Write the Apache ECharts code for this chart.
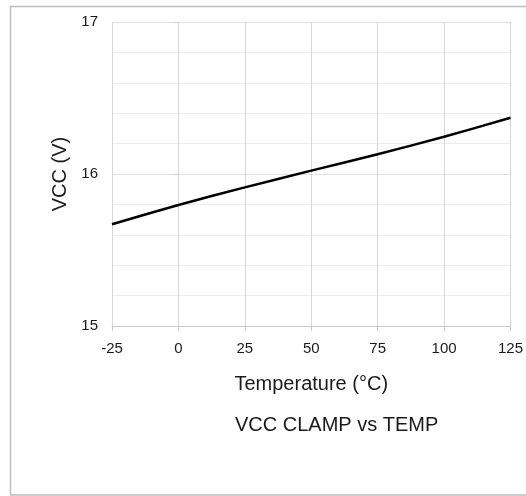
<!DOCTYPE html>
<html>
<head>
<meta charset="utf-8">
<script src="https://cdn.jsdelivr.net/npm/echarts@6/dist/echarts.min.js"></script>
<style>
html,body{margin:0;padding:0;background:#fff;}
#c{width:526px;height:496px;}
</style>
</head>
<body>
<div id="c"></div>
<script>
var temps = [-25, 0, 25, 50, 75, 100, 125];
var vcc = [15.669, 15.796, 15.912, 16.022, 16.13, 16.245, 16.370];
var xTicks = [-25, 0, 25, 50, 75, 100, 125];
var yTicks = [15, 16, 17];
var titleText = 'VCC CLAMP vs TEMP';
var xName = 'Temperature (°C)';
var yName = 'VCC (V)';

var font = 'Liberation Sans, Arial, sans-serif';
var chart = echarts.init(document.getElementById('c'), null, {renderer: 'canvas'});
chart.setOption({
  animation: false,
  backgroundColor: '#ffffff',
  graphic: [{
    type: 'rect',
    shape: {x: 10.5, y: 6.5, width: 530, height: 488.5},
    style: {fill: 'none', stroke: '#bdbdbd', lineWidth: 1.5},
    z: -1
  }],
  title: {
    text: titleText,
    left: 235,
    top: 415,
    padding: 0,
    textStyle: {fontFamily: font, fontSize: 20, fontWeight: 'normal', color: '#1a1a1a'}
  },
  grid: {left: 112, right: 13, top: 22, bottom: 170, containLabel: false},
  xAxis: {
    type: 'value',
    min: xTicks[0],
    max: xTicks[xTicks.length - 1],
    interval: 25,
    name: xName,
    nameLocation: 'middle',
    nameGap: 48,
    nameTextStyle: {fontFamily: font, fontSize: 20, color: '#1a1a1a'},
    axisLine: {show: true, lineStyle: {color: '#c8c8c8', width: 1}},
    axisTick: {show: true, length: 5, lineStyle: {color: '#c8c8c8'}},
    axisLabel: {fontFamily: font, fontSize: 15, color: '#1a1a1a', margin: 15},
    splitLine: {show: true, lineStyle: {color: '#d6d6d6', width: 1}}
  },
  yAxis: {
    type: 'value',
    min: yTicks[0],
    max: yTicks[yTicks.length - 1],
    interval: 1,
    name: yName,
    nameLocation: 'middle',
    nameGap: 42,
    nameRotate: 90,
    nameTextStyle: {fontFamily: font, fontSize: 20, color: '#1a1a1a'},
    axisLine: {show: false},
    axisTick: {show: true, length: 5, lineStyle: {color: '#cccccc'}},
    axisLabel: {fontFamily: font, fontSize: 15, color: '#1a1a1a', margin: 14},
    splitLine: {show: true, lineStyle: {color: '#e2e2e2', width: 1}},
    minorTick: {show: false, splitNumber: 5},
    minorSplitLine: {show: true, lineStyle: {color: '#ececec', width: 1}}
  },
  series: [{
    type: 'line',
    data: temps.map(function (t, i) { return [t, vcc[i]]; }),
    smooth: 0.25,
    showSymbol: false,
    lineStyle: {color: '#000000', width: 2.5},
    z: 5
  }]
});
</script>
</body>
</html>
